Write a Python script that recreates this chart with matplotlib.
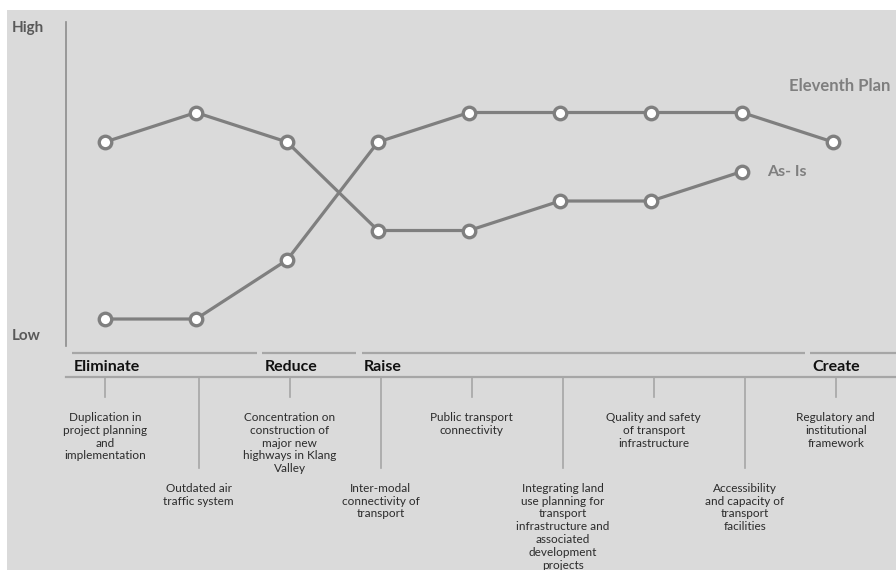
import matplotlib.pyplot as plt
from matplotlib.patches import Rectangle

# levels on a 0..10 style scale (Low -> High)
as_is = [7, 8, 7, 4, 4, 5, 5, 6]
eleventh_plan = [1, 1, 3, 7, 8, 8, 8, 8, 7]

items = [
    "Duplication in\nproject planning\nand\nimplementation",
    "Outdated air\ntraffic system",
    "Concentration on\nconstruction of\nmajor new\nhighways in Klang\nValley",
    "Inter-modal\nconnectivity of\ntransport",
    "Public transport\nconnectivity",
    "Integrating land\nuse planning for\ntransport\ninfrastructure and\nassociated\ndevelopment\nprojects",
    "Quality and safety\nof transport\ninfrastructure",
    "Accessibility\nand capacity of\ntransport\nfacilities",
    "Regulatory and\ninstitutional\nframework",
]
groups = ["Eliminate", "Reduce", "Raise", "Create"]

LINE = "#7f7f7f"
BG = "#dadada"
FONT = "Lato"

fig = plt.figure(figsize=(8.96, 5.70), dpi=100)
fig.patch.set_facecolor("white")
fig.patches.append(Rectangle((7 / 896, 0), 1, 1 - 10 / 570, transform=fig.transFigure,
                             facecolor=BG, edgecolor="none", zorder=-5))

ax = fig.add_axes([0, 0, 1, 1])
ax.set_facecolor("none")
ax.set_xlim(-1.154, 8.692)
ax.set_ylim(-7.508, 11.814)
ax.axis("off")

# vertical value axis
ax.plot([-0.43, -0.43], [0.08, 11.07], color="#8c8c8c", lw=1.2)
ax.text(-1.03, 10.86, "High", fontsize=11, fontweight="bold", color="#595959",
        family=FONT, va="center", ha="left")
ax.text(-1.03, 0.42, "Low", fontsize=11, fontweight="bold", color="#595959",
        family=FONT, va="center", ha="left")

mk = dict(marker="o", markersize=9, markerfacecolor="white",
          markeredgecolor=LINE, markeredgewidth=2.4, color=LINE, lw=2.3)
ax.plot(range(len(as_is)), as_is, **mk)
ax.plot(range(len(eleventh_plan)), eleventh_plan, **mk)

ax.text(len(eleventh_plan) - 1.48, 8.9, "Eleventh Plan", fontsize=12, fontweight="bold",
        color=LINE, family=FONT, va="center", ha="left")
ax.text(len(as_is) - 0.73, 6.0, "As- Is", fontsize=11.5, fontweight="bold",
        color=LINE, family=FONT, va="center", ha="left")

# category bands
y_top, y_lab, y_bot = -0.15, -0.62, -0.97
bounds = [-0.39, 1.7, 2.79, 7.72, 8.75]
for k, g in enumerate(groups):
    x0 = bounds[k] + 0.03
    x1 = bounds[k + 1] - 0.03
    ax.plot([x0, x1], [y_top, y_top], color="#a6a6a6", lw=1.6, solid_capstyle="butt")
    ax.text(x0 + 0.02, y_lab, g, fontsize=11.5, fontweight="bold", color="#111111",
            family=FONT, va="center", ha="left")
ax.plot([-0.43, 8.75], [y_bot, y_bot], color="#a6a6a6", lw=1.6)

for i, lab in enumerate(items):
    long_tick = i % 2 == 1
    x = i + (0.03 if i else 0)
    y_end = -4.05 if long_tick else -1.64
    y_txt = -4.55 if long_tick else -2.15
    ax.plot([x, x], [y_bot, y_end], color="#a6a6a6", lw=1.2)
    ax.text(x, y_txt, lab, fontsize=8.5, color="#2b2b2b", family=FONT,
            ha="center", va="top", linespacing=1.2)

fig.savefig("out.png", dpi=100, facecolor=fig.get_facecolor())
